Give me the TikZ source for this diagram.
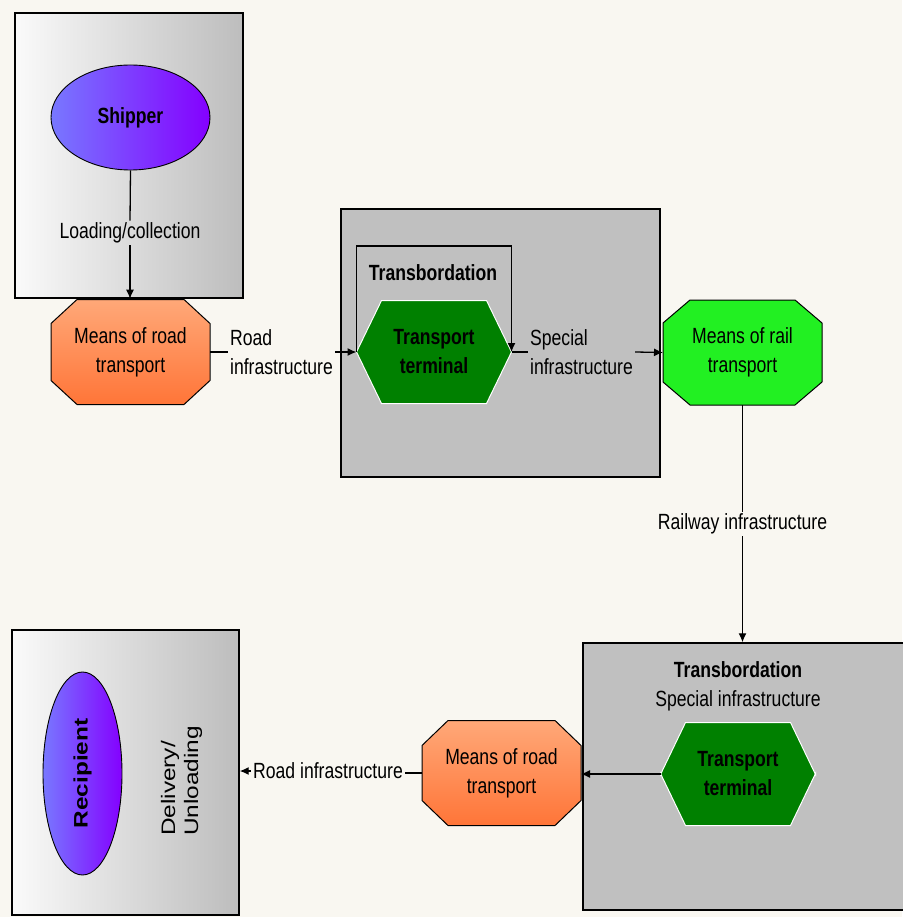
\documentclass[tikz,border=0pt]{standalone}
\usepackage{fontspec}
\setmainfont{Liberation Sans}[FakeStretch=0.8]
\newfontfamily\widesans{Liberation Sans}[FakeStretch=1.25]
\usetikzlibrary{shapes.geometric,arrows.meta}

\definecolor{paper}{HTML}{F9F7F1}
\definecolor{panellight}{HTML}{FAFAFA}
\definecolor{paneldark}{HTML}{BDBDBD}
\definecolor{hubgray}{HTML}{C0C0C0}
\definecolor{orangetop}{HTML}{FFA878}
\definecolor{orangebot}{HTML}{FF7538}
\definecolor{railgreen}{HTML}{22F022}
\definecolor{termgreen}{HTML}{008000}
\definecolor{partyleft}{HTML}{7878FF}
\definecolor{partyright}{HTML}{8400FF}

\pgfdeclarelayer{panels}
\pgfdeclarelayer{shapes}
\pgfsetlayers{panels,shapes,main}

% outline of a node's box with its corners cut off:
% #1 node, #2 horizontal cut, #3 vertical cut, #4 path style
\newcommand\cutcorners[4]{%
  \path[#4] ([xshift=#2]#1.north west) -- ([xshift=-#2]#1.north east)
    -- ([yshift=-#3]#1.north east) -- ([yshift=#3]#1.south east)
    -- ([xshift=-#2]#1.south east) -- ([xshift=#2]#1.south west)
    -- ([yshift=#3]#1.south west) -- ([yshift=-#3]#1.north west) -- cycle;}

\begin{document}
\begin{tikzpicture}[x=1pt,y=-1pt,
  txt/.style={font=\fontsize{22}{29}\selectfont, align=center, inner sep=0pt},
  boldtxt/.style={txt, font=\fontsize{22}{29}\selectfont\bfseries},
  lab/.style={txt, inner sep=2pt},
  container/.style={draw, line width=1.4pt, left color=panellight, right color=paneldark, inner sep=0pt},
  hubbox/.style={draw, line width=1.4pt, fill=hubgray, inner sep=0pt},
  party/.style={ellipse, draw, line width=0.9pt, left color=partyleft, right color=partyright, inner sep=0pt},
  vehicle/.style={rectangle, inner sep=0pt, outer sep=0pt, minimum width=159pt, minimum height=105pt, txt},
  terminal/.style={rectangle, inner sep=0pt, outer sep=0pt, minimum width=155pt, minimum height=103pt, boldtxt},
  roadfill/.style={draw, line width=1pt, top color=orangetop, bottom color=orangebot},
  railfill/.style={draw, line width=1pt, fill=railgreen},
  termfill/.style={draw=white, line width=1pt, fill=termgreen},
  flow/.style={line width=1.3pt},
  arr/.style={flow, -{Latex[length=9pt,width=8pt]}}
]
\begin{pgfonlayer}{panels}
\fill[paper] (0,0) rectangle (902,917);
\end{pgfonlayer}
\useasboundingbox (0,0) rectangle (902,917);

% panels
\begin{pgfonlayer}{panels}
\node[container, minimum width=228pt, minimum height=285pt] (src) at (129,155.5) {};
\node[hubbox, minimum width=319pt, minimum height=268pt] (hub1) at (500.5,343) {};
\node[hubbox, minimum width=322pt, minimum height=267pt] (hub2) at (744,776.5) {};
\node[container, minimum width=227pt, minimum height=285pt] (dst) at (125.5,772.5) {};
\end{pgfonlayer}

% shipper side
\node[party, minimum width=159pt, minimum height=105pt, boldtxt] (shipper) at (130.5,117.5) {Shipper};
\node[vehicle] (road1) at (130.5,352) {Means of road\\transport};

% first transbordation hub
\node[terminal] (term1) at (434,352) {Transport\\terminal};
\node[boldtxt] (tb1) at (433,273) {Transbordation};
\node[vehicle] (rail) at (742.5,352.5) {Means of rail\\transport};

% second transbordation hub
\node[txt] (hub2title) at (738,686) {\textbf{Transbordation}\\Special infrastructure};
\node[terminal] (term2) at (738,774) {Transport\\terminal};
\node[vehicle] (road2) at (501.5,773) {Means of road\\transport};

% vehicle and terminal outlines
\begin{pgfonlayer}{shapes}
\cutcorners{road1}{26pt}{24pt}{roadfill}
\cutcorners{road2}{26pt}{25pt}{roadfill}
\cutcorners{rail}{27pt}{23pt}{railfill}
\cutcorners{term1}{25pt}{51.5pt}{termfill}
\cutcorners{term2}{25pt}{52pt}{termfill}
\end{pgfonlayer}

% recipient side
\node[party, minimum width=79pt, minimum height=203pt] (recip) at (82.5,773.5) {};
\node[rotate=90, inner sep=0pt, font=\widesans\fontsize{19.5}{23}\selectfont\bfseries] (reciptext) at (recip.center) {Recipient};
\node[rotate=90, align=left, inner sep=0pt, font=\widesans\fontsize{19.5}{23}\selectfont] (deliv) at (181.5,781) {Delivery/\\Unloading};

% loading
\node[lab] (lload) at (130,233) {Loading/collection};
\draw[flow] (shipper.south) -- (lload.north);
\draw[arr] (lload.south) -- (lload.south |- src.south);

% road to the first terminal
\node[lab, align=left] (lroad1) at (281.5,352) {Road\\infrastructure};
\draw[flow] (road1.east) -- (lroad1.west);
\draw[arr] (lroad1.east) -- (term1.west);

% transbordation loop
\draw[arr] (term1.west) -- ++(0,-106) -| (term1.east);

% special infrastructure to rail
\node[lab, align=left] (lspec) at (581.5,352) {Special\\infrastructure};
\draw[flow] (term1.east) -- (lspec.west);
\draw[arr] (lspec.east) -- (rail.west);

% railway to the second hub
\node[lab] (lrail) at (742.5,524) {Railway infrastructure};
\draw[flow] (rail.south) -- (lrail.north);
\draw[arr] (lrail.south) -- (lrail.south |- hub2.north);

% second terminal to road vehicle
\draw[arr] (term2.west) -- (term2.west -| road2.east);

% road to the recipient
\node[lab] (lroad2) at (328,771) {Road infrastructure};
\draw[flow] (road2.west) -- (road2.west -| lroad2.east);
\draw[arr] (lroad2.west) -- (lroad2.west -| dst.east);
\end{tikzpicture}
\end{document}
